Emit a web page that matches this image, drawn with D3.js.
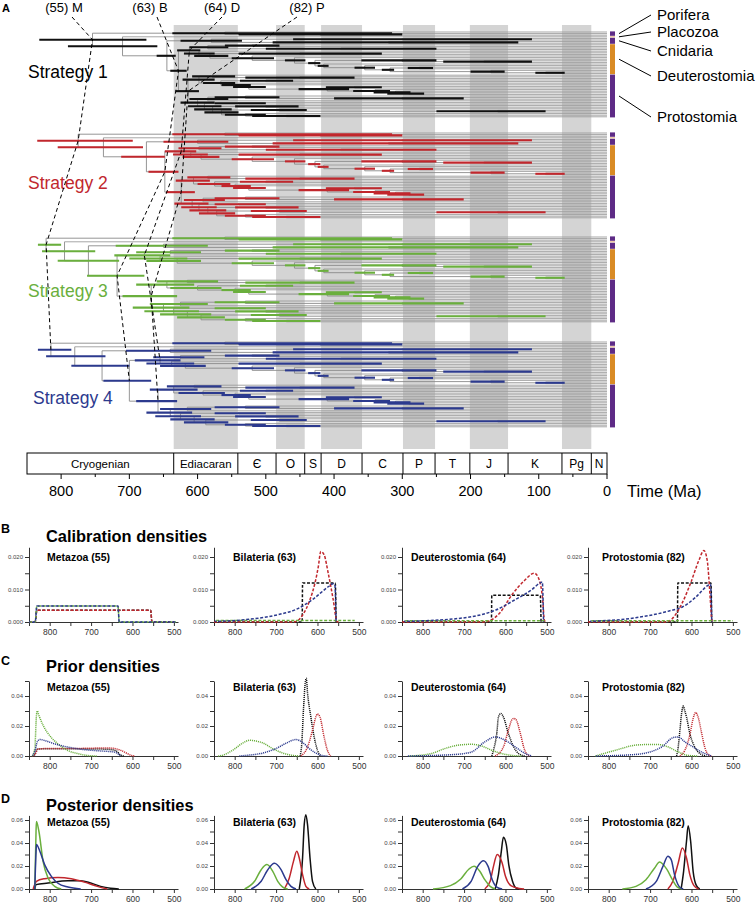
<!DOCTYPE html>
<html><head><meta charset="utf-8">
<script src="https://cdn.jsdelivr.net/npm/d3@7"></script>
<style>
body{margin:0;background:#fff}
svg{display:block;font-family:'Liberation Sans',Arial,Helvetica,sans-serif}
</style>
</head><body>
<svg id="c" width="756" height="903"></svg>
<script>
// ================= PANEL A DATA =================
const periodNames  = ["Cryogenian","Ediacaran","Є","O","S","D","C","P","T","J","K","Pg","N"];
const periodStarts = [850,635,541,485,443,419,359,299,252,201,145,66,23];
const periodEnds   = [635,541,485,443,419,359,299,252,201,145,66,23,0];
const shadedPeriods = ["Ediacaran","O","D","P","J","Pg"];
const timeMajorTicks = [800,700,600,500,400,300,200,100,0];
const timeMinorTicks = [750,650,550,450,350,250,150,50];

const strategyNames  = ["Strategy 1","Strategy 2","Strategy 3","Strategy 4"];
const strategyColors = ["#111111","#c1272d","#6aaf3d","#2c3a8e"];

const cladeNames     = ["Porifera","Placozoa","Cnidaria","Deuterostomia","Protostomia"];
const cladeFirstTip  = [0,3,4,8,27];
const cladeLastTip   = [2,3,7,26,53];
const cladeColors    = ["#5e2b86","#ebbd90","#5e2b86","#d98b25","#5e2b86"];

const calibratedNodes  = [55,63,64,82];
const calibratedLabels = ["(55) M","(63) B","(64) D","(82) P"];

// 54 tips (indices), internal nodes numbered 55.. in preorder
const topology =
 [[0,[1,2]],
  [3,
   [[[4,5],[6,7]],
    [
     [[[8,9],[10,11]],
      [12,[[13,14],[15,[16,[[17,[18,19]],[20,[21,[[22,23],[24,[25,26]]]]]]]]]]],
     [[[27,[28,29]],[[30,31],[32,[33,[[34,35],[36,[37,[38,39]]]]]]]],
      [[[40,[41,42]],43],[[44,45],[[46,47],[[48,[49,50]],[51,[52,53]]]]]]]
    ]]]];

// nodes whose ages differ between strategies
const deepNodeIds = [55,58,59,60,63,64,65,68,69,82,83,84,86,95,96,99,101,103];
const s1Age   = [754,710,645,580,628,612,585,598,582,614,598,578,566,600,585,590,578,565];
const s1Old   = [832,790,660,625,640,630,612,620,605,632,622,608,592,625,612,614,605,590];
const s1Young = [675,659,632,535,616,596,555,575,555,598,575,545,545,575,555,565,550,540];
const s2Age   = [775,738,675,600,648,624,598,610,595,624,606,585,575,608,592,598,585,572];
const s2Old   = [835,805,712,650,672,648,628,636,622,646,632,615,600,634,620,624,612,598];
const s2Young = [695,680,648,555,628,602,565,585,568,604,582,552,552,584,560,572,558,545];
const s3Age   = [822,795,760,650,718,678,640,655,630,668,645,615,600,650,625,635,615,595];
const s3Old   = [834,828,805,720,762,722,690,700,675,710,690,660,640,695,670,678,655,630];
const s3Young = [800,750,715,585,678,640,595,615,595,630,605,570,565,612,585,598,580,560];
const s4Age   = [815,780,740,640,700,655,625,638,618,658,635,605,592,640,615,625,605,588];
const s4Old   = [834,822,785,705,738,692,665,675,655,690,670,645,628,675,655,662,640,620];
const s4Young = [785,735,700,580,668,625,590,605,588,630,600,565,560,608,580,595,575,555];

// nodes with (nearly) equal ages in all strategies
const sharedNodeIds = [56,57,61,62,66,67,70,71,72,73,74,75,76,77,78,79,80,81,85,87,88,89,90,91,92,93,94,97,98,100,102,104,105,106,107];
const sharedAge   = [560,420,300,320,520,390,450,520,458,428,300,180,415,355,318,275,170,90,450,500,545,525,410,370,340,310,290,530,300,540,500,480,160,530,470];
const sharedOld   = [637,540,460,490,560,500,540,550,472,438,360,240,424,370,330,292,200,105,530,538,565,548,452,412,372,342,322,575,400,575,545,522,250,560,520];
const sharedYoung = [315,300,110,130,480,250,330,488,442,420,250,110,408,340,312,255,150,62,370,460,522,500,378,330,318,288,268,480,210,500,452,440,90,500,420];

// ================= PANELS B-D DATA ([age Ma, density]) ; order: S1,S2,S3,S4 =================
const calibMetazoa = [
 [[850,0],[835,0],[831,0.0036],[556,0.0036],[553,0],[500,0]],
 [[850,0],[835,0],[831,0.0036],[556,0.0036],[553,0],[500,0]],
 [[850,0],[835,0],[831,0.0049],[635,0.0049],[632,0],[495,0]],
 [[850,0],[835,0],[831,0.0049],[635,0.0049],[632,0],[495,0]]];
const calibBilateria = [
 [[850,0],[637,0],[636,0.012],[557,0.012],[555,0]],
 [[850,0],[660,0],[651,0.0002],[635,0.0023],[618,0.0069],[606,0.012],[598,0.017],[592,0.0217],[584,0.0207],[574,0.015],[562,0.0069],[553,0.0002],[549,0]],
 [[845,0.0005],[510,0.0005]],
 [[848,0.0002],[775,0.0007],[694,0.0023],[653,0.0038],[612,0.0069],[572,0.011],[562,0.0118],[558,0.0115],[555,0]]];
const calibDeuterostomia = [
 [[850,0],[634,0],[633,0.0082],[516,0.0082],[514,0]],
 [[850,0],[650,0],[640,0.0003],[615,0.0026],[582,0.0088],[557,0.0124],[530,0.015],[518,0.0128],[510,0.0067],[506,0.0005],[503,0]],
 [[842,0.0004],[505,0.0004]],
 [[845,0.0002],[720,0.001],[654,0.0024],[625,0.0036],[579,0.0067],[538,0.0098],[515,0.0121],[511,0.0123],[508,0]]];
const calibProtostomia = [
 [[850,0],[634,0],[633,0.012],[553,0.012],[551,0]],
 [[850,0],[660,0],[655,0.0002],[623,0.0057],[602,0.012],[582,0.019],[570,0.022],[562,0.019],[555,0.0078],[551,0]],
 [[842,0.0004],[500,0.0004]],
 [[845,0.0002],[735,0.0013],[654,0.0034],[621,0.0047],[590,0.0076],[560,0.0113],[554,0.0117],[551,0]]];

const priorMetazoa = [
 [[842,0],[836,0.001],[829,0.0046],[810,0.0048],[750,0.0048],[700,0.0047],[660,0.0045],[640,0.0035],[628,0.0005],[620,0]],
 [[842,0],[836,0.001],[828,0.0047],[800,0.005],[750,0.005],[700,0.0052],[670,0.0054],[648,0.0052],[630,0.004],[615,0.002],[602,0.0003],[595,0]],
 [[842,0],[836,0.005],[832,0.027],[830,0.03],[826,0.027],[816,0.0205],[796,0.0123],[776,0.0072],[757,0.0038],[733,0.0016],[710,0.0004],[686,0]],
 [[842,0],[836,0.003],[830,0.0095],[824,0.011],[810,0.0102],[796,0.0088],[757,0.006],[718,0.0043],[679,0.0034],[645,0.0027],[635,0.0015],[628,0]]];
const priorBilateria = [
 [[642,0],[638,0.008],[634,0.03],[629,0.05],[627,0.0518],[624,0.042],[616,0.026],[608,0.0127],[600,0.0038],[592,0]],
 [[640,0],[624,0.006],[612,0.0172],[604,0.026],[600,0.028],[594,0.026],[584,0.0127],[576,0.0038],[568,0]],
 [[840,0],[832,0.0003],[804,0.004],[780,0.0087],[764,0.0105],[756,0.0103],[732,0.0087],[708,0.0049],[684,0.002],[660,0.0004],[644,0]],
 [[790,0],[768,0.0005],[732,0.002],[700,0.005],[676,0.0085],[652,0.011],[636,0.009],[620,0.005],[604,0.002],[588,0.0003],[575,0]]];
const priorDeuterostomia = [
 [[633,0],[627,0.006],[621,0.015],[617,0.026],[611,0.0284],[605,0.026],[593,0.015],[580,0.006],[568,0.0016],[552,0]],
 [[625,0],[605,0.006],[593,0.0172],[584,0.0244],[580,0.025],[575,0.0244],[564,0.015],[556,0.006],[548,0.001],[540,0]],
 [[832,0],[780,0.0016],[747,0.0049],[715,0.0072],[682,0.0078],[658,0.0067],[633,0.0038],[609,0.0016],[585,0.0004],[560,0]],
 [[837,0],[723,0.001],[682,0.0027],[650,0.0094],[624,0.0127],[601,0.0105],[576,0.006],[552,0.0016],[536,0]]];
const priorProtostomia = [
 [[636,0],[632,0.006],[628,0.017],[623,0.03],[620,0.0333],[616,0.03],[612,0.026],[604,0.015],[592,0.006],[576,0.001],[564,0]],
 [[628,0],[616,0.0038],[604,0.0139],[596,0.025],[590,0.029],[584,0.026],[576,0.016],[568,0.006],[560,0.001],[552,0]],
 [[832,0],[784,0.0038],[736,0.0072],[712,0.0076],[680,0.0076],[656,0.006],[632,0.0027],[608,0.0004],[584,0]],
 [[832,0],[736,0.001],[672,0.006],[644,0.0123],[632,0.0127],[616,0.0094],[596,0.006],[576,0.0027],[552,0]]];

const postMetazoa = [
 [[836,0],[833,0.0038],[804,0.0052],[756,0.0072],[725,0.0072],[701,0.0052],[677,0.0023],[653,0.0006],[633,0]],
 [[840,0],[832,0.0067],[812,0.009],[780,0.0101],[748,0.009],[716,0.006],[685,0.0023],[661,0]],
 [[836,0],[833,0.05],[832,0.0588],[826,0.05],[816,0.024],[804,0.0096],[788,0.0023],[772,0]],
 [[836,0],[833,0.032],[832,0.0386],[824,0.033],[812,0.021],[796,0.011],[780,0.005],[756,0.0017],[725,0]]];
const postBilateria = [
 [[644,0],[636,0.027],[632,0.056],[628,0.0646],[624,0.056],[618,0.027],[612,0.0067],[604,0]],
 [[680,0],[668,0.0096],[658,0.024],[650,0.0328],[644,0.027],[636,0.0125],[628,0.0023],[620,0]],
 [[776,0],[752,0.0067],[736,0.0168],[722,0.0212],[708,0.0154],[696,0.0067],[684,0.0017],[672,0]],
 [[760,0],[736,0.0067],[720,0.0168],[704,0.0223],[688,0.0168],[676,0.0081],[664,0.0023],[652,0]]];
const postDeuterostomia = [
 [[625,0],[617,0.0125],[610,0.0328],[605,0.045],[598,0.0386],[592,0.021],[583,0.0067],[575,0.0009],[567,0]],
 [[650,0],[637,0.0067],[629,0.0197],[620,0.03],[608,0.0226],[600,0.011],[587,0.0029],[567,0.0005],[555,0]],
 [[775,0],[733,0.0029],[708,0.0087],[688,0.0174],[676,0.0197],[662,0.0154],[650,0.0081],[637,0.0023],[625,0]],
 [[704,0],[683,0.0067],[667,0.0197],[653,0.0246],[642,0.0197],[632,0.0081],[621,0.0017],[608,0]]];
const postProtostomia = [
 [[625,0],[619,0.0154],[612,0.0415],[608,0.055],[602,0.0415],[596,0.0154],[588,0.0029],[580,0]],
 [[657,0],[645,0.0067],[632,0.0226],[622,0.0357],[612,0.027],[604,0.0125],[594,0.0029],[583,0]],
 [[767,0],[734,0.0023],[710,0.0081],[689,0.0183],[677,0.0235],[659,0.0168],[646,0.0081],[634,0.0017],[622,0]],
 [[710,0],[685,0.0067],[669,0.0197],[657,0.0284],[649,0.0255],[641,0.0125],[630,0.0023],[620,0]]];

const subplotTitles = ["Metazoa (55)","Bilateria (63)","Deuterostomia (64)","Protostomia (82)"];
const densityXTicks = [850,800,750,700,650,600,550,500];
const densityXLabels = [800,700,600,500];

// ================= DRAW =================
const svg = d3.select("#c");
svg.append("rect").attr("width",756).attr("height",903).attr("fill","#fff");

const xA = d3.scaleLinear().domain([850,0]).range([27,607]);
const bandTop = 25, bandBottom = 449;
const blockTops = [32,133,237,342];
const tipStep = 1.6;

// Shaded bands
const gA = svg.append("g");
periodNames.forEach((p,i)=>{
  if (shadedPeriods.includes(p)) {
    gA.append("rect").attr("x",xA(periodStarts[i])).attr("y",bandTop)
      .attr("width",xA(periodEnds[i])-xA(periodStarts[i])).attr("height",bandBottom-bandTop)
      .attr("fill","#d4d4d4");
  }
});

// Age lookup per strategy
const deepSets = [[s1Age,s1Old,s1Young],[s2Age,s2Old,s2Young],[s3Age,s3Old,s3Young],[s4Age,s4Old,s4Young]];
function ageTable(s){
  const m = new Map();
  sharedNodeIds.forEach((id,i)=>m.set(id,{age:sharedAge[i],old:sharedOld[i],young:sharedYoung[i]}));
  deepNodeIds.forEach((id,i)=>m.set(id,{age:deepSets[s][0][i],old:deepSets[s][1][i],young:deepSets[s][2][i]}));
  return m;
}

function buildTree(s){
  const tab = ageTable(s);
  let next = 55;
  const internal = [];
  const tipY = i => blockTops[s] + i*tipStep;
  function rec(n){
    if (typeof n === "number") return {tip:n, age:0, y:tipY(n)};
    const node = {id: next++};
    const a = tab.get(node.id);
    node.age = a.age; node.old = a.old; node.young = a.young;
    node.children = n.map(rec);
    node.y = d3.mean(node.children, c=>c.y);
    internal.push(node);
    return node;
  }
  const root = rec(topology);
  return {root, internal, tipY};
}

const trees = strategyNames.map((_,s)=>buildTree(s));

trees.forEach((t,s)=>{
  const g = svg.append("g");
  // branches
  t.internal.forEach(n=>{
    const ys = n.children.map(c=>c.y);
    g.append("line").attr("x1",xA(n.age)).attr("x2",xA(n.age))
      .attr("y1",d3.min(ys)).attr("y2",d3.max(ys))
      .attr("stroke","#8a8a8a").attr("stroke-width",0.9);
    n.children.forEach(c=>{
      g.append("line").attr("x1",xA(n.age)).attr("x2",xA(c.age))
        .attr("y1",c.y).attr("y2",c.y)
        .attr("stroke", c.tip!==undefined ? "#9c9c9c" : "#8a8a8a").attr("stroke-width",0.9);
    });
  });
  // CI bars
  t.internal.forEach(n=>{
    g.append("line").attr("x1",xA(n.old)).attr("x2",xA(n.young))
      .attr("y1",n.y).attr("y2",n.y)
      .attr("stroke",strategyColors[s]).attr("stroke-width",2.1);
  });
  // clade bars
  cladeNames.forEach((c,k)=>{
    const y0 = t.tipY(cladeFirstTip[k]) - 0.6, y1 = t.tipY(cladeLastTip[k]) + 0.6;
    g.append("rect").attr("x",610).attr("y",y0).attr("width",5).attr("height",Math.max(1.2,y1-y0))
      .attr("fill",cladeColors[k]);
  });
});

// Strategy labels
const stratLabelPos = [[28,78],[28,189],[28,297],[33,404]];
strategyNames.forEach((n,s)=>{
  svg.append("text").attr("x",stratLabelPos[s][0]).attr("y",stratLabelPos[s][1])
    .attr("font-size",17.5).attr("fill",strategyColors[s]==="#111111"?"#000":strategyColors[s]).text(n);
});

// Clade labels with leaders (strategy 1)
const cladeLabelY = [20,37,56,81,122];
cladeNames.forEach((c,k)=>{
  const t = trees[0];
  const ym = (t.tipY(cladeFirstTip[k]) + t.tipY(cladeLastTip[k]))/2;
  svg.append("line").attr("x1",619).attr("y1",ym).attr("x2",651).attr("y2",cladeLabelY[k]-5)
    .attr("stroke","#000").attr("stroke-width",1);
  svg.append("text").attr("x",657).attr("y",cladeLabelY[k]).attr("font-size",15).text(c);
});

// Calibrated-node labels & dashed connectors
const calLabelX = [64,150,222,307];
const calAnchorX = [72,157,222,297];
calibratedNodes.forEach((id,k)=>{
  svg.append("text").attr("x",calLabelX[k]).attr("y",12).attr("text-anchor","middle")
    .attr("font-size",13).text(calibratedLabels[k]);
  const pts = [[calAnchorX[k],17]];
  trees.forEach(t=>{
    const n = t.internal.find(d=>d.id===id);
    pts.push([xA(n.age), n.y]);
  });
  svg.append("path").attr("d",d3.line()(pts)).attr("fill","none")
    .attr("stroke","#000").attr("stroke-width",1).attr("stroke-dasharray","4,3");
});

// Panel letter A
svg.append("text").attr("x",2).attr("y",12).attr("font-size",11).attr("font-weight","bold").text("A");

// Period box
const boxTop = 453, boxBot = 474;
svg.append("rect").attr("x",xA(850)).attr("y",boxTop).attr("width",xA(0)-xA(850)).attr("height",boxBot-boxTop)
  .attr("fill","none").attr("stroke","#000").attr("stroke-width",1);
periodNames.forEach((p,i)=>{
  if (i>0) svg.append("line").attr("x1",xA(periodStarts[i])).attr("x2",xA(periodStarts[i]))
     .attr("y1",boxTop).attr("y2",boxBot).attr("stroke","#000").attr("stroke-width",1);
  svg.append("text").attr("x",(xA(periodStarts[i])+xA(periodEnds[i]))/2).attr("y",boxTop+15)
    .attr("text-anchor","middle").attr("font-size",p.length>3?11.5:12).text(p);
});
// time axis ticks and labels
timeMajorTicks.forEach(t=>{
  svg.append("line").attr("x1",xA(t)).attr("x2",xA(t)).attr("y1",boxBot).attr("y2",boxBot+5)
    .attr("stroke","#000").attr("stroke-width",1);
  svg.append("text").attr("x",xA(t)).attr("y",496).attr("text-anchor","middle")
    .attr("font-size",14.5).text(t);
});
timeMinorTicks.forEach(t=>{
  svg.append("line").attr("x1",xA(t)).attr("x2",xA(t)).attr("y1",boxBot).attr("y2",boxBot+3)
    .attr("stroke","#000").attr("stroke-width",1);
});
svg.append("text").attr("x",627).attr("y",497).attr("font-size",16.5).text("Time (Ma)");

// ================= DENSITY PANELS =================
const densCols = [29,214,402,588];
const titleX = [47,233,411,602];
const rows = [
  {letter:"B", letterY:533, heading:"Calibration densities", headY:542, base:622, top:0.023, ppu:3250,
   ticks:[0,0.005,0.01,0.015,0.02], labels:[0,0.01,0.02], fmt:d3.format(".3f"), titleY:561,
   dash:"3,1.7", width:1.5, data:[calibMetazoa,calibBilateria,calibDeuterostomia,calibProtostomia]},
  {letter:"C", letterY:665, heading:"Prior densities", headY:672, base:756, top:0.05, ppu:1500,
   ticks:[0,0.01,0.02,0.03,0.04,0.05], labels:[0,0.02,0.04], fmt:d3.format(".2f"), titleY:691,
   dash:"1.1,0.9", width:1.5, data:[priorMetazoa,priorBilateria,priorDeuterostomia,priorProtostomia]},
  {letter:"D", letterY:803, heading:"Posterior densities", headY:811, base:889, top:0.064, ppu:1150,
   ticks:[0,0.01,0.02,0.03,0.04,0.05,0.06], labels:[0,0.02,0.04,0.06], fmt:d3.format(".2f"), titleY:826,
   dash:null, width:1.5, data:[postMetazoa,postBilateria,postDeuterostomia,postProtostomia]}
];
const drawOrder = [0,1,2,3];

rows.forEach(r=>{
  svg.append("text").attr("x",1).attr("y",r.letterY).attr("font-size",12.5).attr("font-weight","bold").text(r.letter);
  svg.append("text").attr("x",46).attr("y",r.headY).attr("font-size",16.4).attr("font-weight","bold").text(r.heading);
  densCols.forEach((x0,c)=>{
    const g = svg.append("g");
    const x = d3.scaleLinear().domain([850,490]).range([x0, x0+149]);
    const y = d3.scaleLinear().domain([0,r.top]).range([r.base, r.base - r.top*r.ppu]);
    // axes
    const xa = d3.axisBottom(x).tickValues(densityXTicks).tickSize(4).tickSizeOuter(0)
      .tickFormat(d=>densityXLabels.includes(d)?d:"");
    const gx = g.append("g").attr("transform",`translate(0,${r.base})`).call(xa);
    gx.selectAll("text").attr("font-size",8.5).attr("fill","#333").attr("dy","0.75em")
      .attr("font-family","'Liberation Sans',Arial,sans-serif");
    const ya = d3.axisLeft(y).tickValues(r.ticks).tickSize(4).tickSizeOuter(0).tickPadding(2)
      .tickFormat(d=>r.labels.some(v=>Math.abs(v-d)<1e-9)?r.fmt(d):"");
    const gy = g.append("g").attr("transform",`translate(${x0},0)`).call(ya);
    gy.selectAll("text").attr("font-size",6).attr("fill","#444")
      .attr("font-family","'Liberation Sans',Arial,sans-serif");
    g.selectAll(".domain, .tick line").attr("stroke","#333").attr("stroke-width",1);
    // curves
    const line = d3.line().x(d=>x(d[0])).y(d=>y(d[1])).curve(d3.curveMonotoneX);
    drawOrder.forEach(s=>{
      const p = g.append("path").attr("d",line(r.data[c][s])).attr("fill","none")
        .attr("stroke",strategyColors[s]).attr("stroke-width",r.width);
      if (r.dash) p.attr("stroke-dasharray",r.dash).attr("stroke-dashoffset", s===3?1.5:0);
    });
    g.append("text").attr("x",titleX[c]).attr("y",r.titleY).attr("font-size",10.5)
      .attr("font-weight","bold").text(subplotTitles[c]);
  });
});
</script>
</body></html>
